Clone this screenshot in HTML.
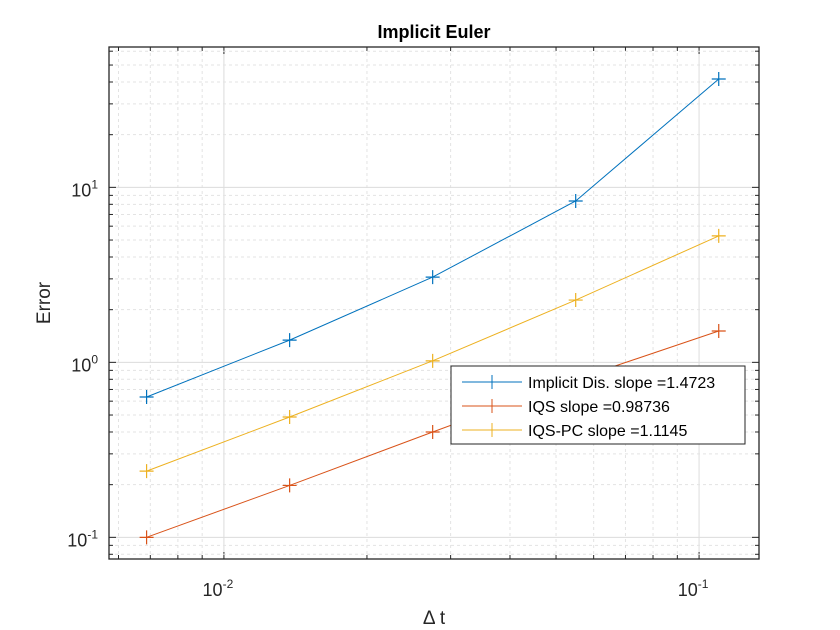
<!DOCTYPE html>
<html><head><meta charset="utf-8"><style>
body{margin:0;background:#fff;}
svg{display:block;font-family:"Liberation Sans",Arial,sans-serif;}
</style></head><body>
<svg id="chart" width="840" height="630"></svg>
<script>
const dt = [0.006875, 0.01375, 0.0275, 0.055, 0.11];
const implicitDis = [0.634, 1.34, 3.07, 8.36, 41.6];
const iqs = [0.100, 0.198, 0.40, 0.80, 1.51];
const iqsPc = [0.239, 0.487, 1.02, 2.27, 5.28];
const seriesNames = ["Implicit Dis. slope =1.4723", "IQS slope =0.98736", "IQS-PC slope =1.1145"];
const seriesColors = ["#0072BD", "#D95319", "#EDB120"];
const xMajorTicks = [0.01, 0.1];
const yMajorTicks = [0.1, 1, 10];
const xTickLabels = ["-2", "-1"];
const yTickLabels = ["-1", "0", "1"];

const L=109,R=759,T=47,B=559;
const xmin=Math.log10(0.00573),xmax=Math.log10(0.1337);
const ymin=Math.log10(0.0752),ymax=Math.log10(63.4);
const X=v=>L+(Math.log10(v)-xmin)/(xmax-xmin)*(R-L);
const Y=v=>B-(Math.log10(v)-ymin)/(ymax-ymin)*(B-T);
const svg=document.getElementById('chart');
const NS='http://www.w3.org/2000/svg';
function mk(tag,attrs,parent){const e=document.createElementNS(NS,tag);for(const k in attrs)e.setAttribute(k,attrs[k]);(parent||svg).appendChild(e);return e;}

const grid=mk('g',{});


for(let d=-3;d<=0;d++)for(let m=1;m<10;m++){const v=m*Math.pow(10,d);const lv=Math.log10(v);
 if(lv<xmin||lv>xmax)continue;const x=X(v);
 if(m===1)mk('line',{x1:x,x2:x,y1:T,y2:B,stroke:'#dcdcdc','stroke-width':1},grid);
 else mk('line',{x1:x,x2:x,y1:T,y2:B,stroke:'#e3e3e3','stroke-width':1,'stroke-dasharray':'3,3'},grid);
 mk('line',{x1:x,x2:x,y1:B,y2:B-(m===1?7:4),stroke:'#262626'},grid);
 mk('line',{x1:x,x2:x,y1:T,y2:T+(m===1?7:4),stroke:'#262626'},grid);}
for(let d=-2;d<=1;d++)for(let m=1;m<10;m++){const v=m*Math.pow(10,d);const lv=Math.log10(v);
 if(lv<ymin||lv>ymax)continue;const y=Y(v);
 if(m===1)mk('line',{x1:L,x2:R,y1:y,y2:y,stroke:'#dcdcdc','stroke-width':1},grid);
 else mk('line',{x1:L,x2:R,y1:y,y2:y,stroke:'#e3e3e3','stroke-width':1,'stroke-dasharray':'3,3'},grid);
 mk('line',{x1:L,x2:L+(m===1?7:4),y1:y,y2:y,stroke:'#262626'},grid);
 mk('line',{x1:R,x2:R-(m===1?7:4),y1:y,y2:y,stroke:'#262626'},grid);}

const box=mk('rect',{x:L,y:T,width:R-L,height:B-T,fill:'none',stroke:'#262626','stroke-width':1.3});



xMajorTicks.forEach((v,i)=>{const t=mk('text',{x:X(v)-6,y:B+37,'font-size':18,fill:'#262626','text-anchor':'middle'});
 
 
 t.innerHTML='10<tspan dy="-8" font-size="12">'+xTickLabels[i]+'</tspan>';});
yMajorTicks.forEach((v,i)=>{const t=mk('text',{x:L-11,y:Y(v)+9,'font-size':18,fill:'#262626','text-anchor':'end'});
 
 
 t.innerHTML='10<tspan dy="-8" font-size="12">'+yTickLabels[i]+'</tspan>';});

[implicitDis,iqs,iqsPc].forEach((s,si)=>{const g=mk('g',{});
 
 
 mk('polyline',{points:dt.map((d,i)=>X(d)+','+Y(s[i])).join(' '),fill:'none',stroke:seriesColors[si],'stroke-width':1},g);
 dt.forEach((d,i)=>{const x=X(d),y=Y(s[i]);
  const p=mk('path',{d:`M${x-7},${y}H${x+7}M${x},${y-7}V${y+7}`,stroke:seriesColors[si],'stroke-width':1.2},g);
  
  });});

const lg=mk('g',{});


mk('rect',{x:451,y:366,width:294,height:78,fill:'#fff',stroke:'#262626','stroke-width':1},lg);
seriesNames.forEach((n,i)=>{const y=382+i*24;
 const e=mk('g',{},lg);
 
 
 mk('line',{x1:462,x2:522,y1:y,y2:y,stroke:seriesColors[i]},e);
 mk('line',{x1:492,x2:492,y1:y-7,y2:y+7,stroke:seriesColors[i]},e);
 const t=mk('text',{x:528,y:y+6,'font-size':16,fill:'#000'},e);t.textContent=n;});

const tt=mk('text',{x:434,y:38,'font-size':18,'font-weight':'bold','text-anchor':'middle',fill:'#000'});
tt.textContent='Implicit Euler';


const xt=mk('text',{x:434,y:624,'font-size':19,'text-anchor':'middle',fill:'#262626'});
xt.textContent='Δ t';


const yt=mk('text',{x:0,y:0,'font-size':19,'text-anchor':'middle',fill:'#262626',transform:'translate(50,303) rotate(-90)'});
yt.textContent='Error';


</script>
</body></html>
